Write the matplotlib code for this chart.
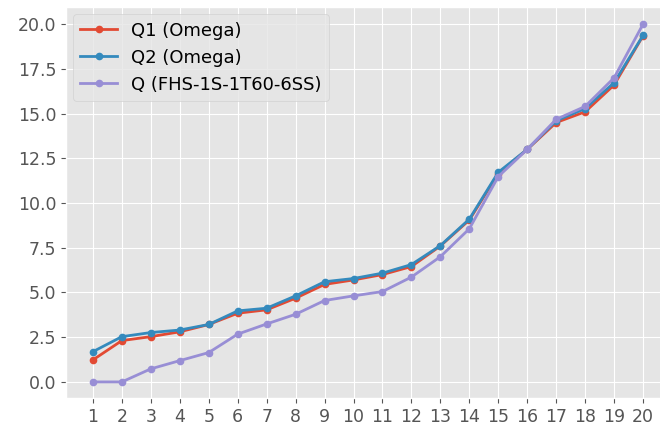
import matplotlib
matplotlib.use('Agg')
from matplotlib import pyplot as plt

plt.style.use('ggplot')

# data
x = list(range(1, 21))
q1_omega = [1.23, 2.31, 2.53, 2.8, 3.21, 3.84, 4.03, 4.68, 5.45, 5.7, 6.0, 6.45,
            7.6, 9.05, 11.65, 13.0, 14.5, 15.1, 16.6, 19.35]
q2_omega = [1.69, 2.53, 2.76, 2.9, 3.21, 3.97, 4.12, 4.81, 5.6, 5.78, 6.08, 6.56,
            7.62, 9.1, 11.72, 13.0, 14.6, 15.28, 16.73, 19.37]
q_fhs = [0.0, 0.0, 0.73, 1.19, 1.64, 2.67, 3.24, 3.78, 4.55, 4.81, 5.05, 5.86,
         7.0, 8.56, 11.48, 13.0, 14.68, 15.4, 17.0, 20.0]
labels = ['Q1 (Omega)', 'Q2 (Omega)', 'Q (FHS-1S-1T60-6SS)']

fig = plt.figure(figsize=(6.6, 4.3), dpi=100)
ax = fig.add_axes([0.1, 0.0744, 0.916, 0.909])

ax.plot(x, q1_omega, marker='o', markersize=4.5, linewidth=2, label=labels[0])
ax.plot(x, q2_omega, marker='o', markersize=4.5, linewidth=2, label=labels[1])
ax.plot(x, q_fhs, marker='o', markersize=4.5, linewidth=2, label=labels[2])

ax.set_xticks(x)
ax.set_yticks([0, 2.5, 5, 7.5, 10, 12.5, 15, 17.5, 20])
ax.set_yticklabels(['0.0', '2.5', '5.0', '7.5', '10.0', '12.5', '15.0', '17.5', '20.0'])
ax.set_xlim(0.07, 20.95)
ax.set_ylim(-0.9, 20.95)
ax.tick_params(labelsize=12.5)

ax.legend(loc='upper left', fontsize=13, borderaxespad=0.4)

plt.savefig('out.png', dpi=100)
